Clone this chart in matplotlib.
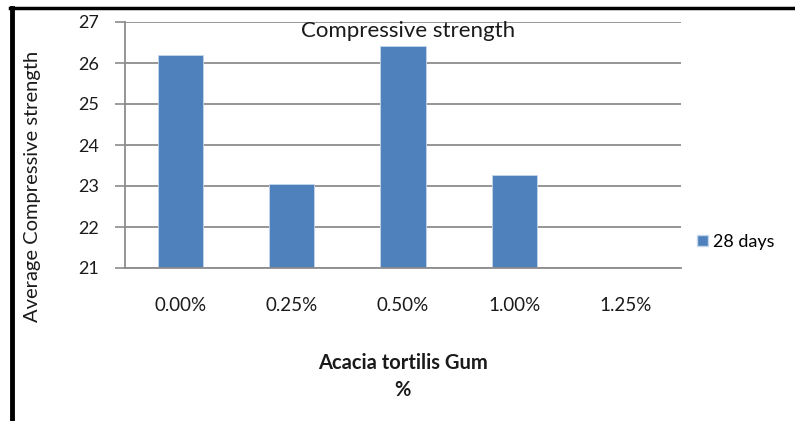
import numpy as np
import matplotlib
matplotlib.use("Agg")
import matplotlib.pyplot as plt
from matplotlib.lines import Line2D
from matplotlib.patches import Patch

categories = ["0.00%", "0.25%", "0.50%", "1.00%", "1.25%"]
strength_28d = [26.2, 23.06, 26.41, 23.27, np.nan]
y_ticks = [21, 22, 23, 24, 25, 26, 27]

plt.rcParams["font.family"] = ["Lato", "DejaVu Sans"]

W, H = 795, 421
fig = plt.figure(figsize=(W / 100, H / 100), dpi=100)
ax = fig.add_axes([125 / W, 1 - 268 / H, (681 - 125) / W, (268 - 22) / H])

grid_c = "#8c8c8c"
bar_c = "#4f81bd"
txt_c = "#1a1a1a"

x = np.arange(len(categories))
ax.bar(x, strength_28d, width=0.405, bottom=0, color=bar_c,
       edgecolor="#c6d6ea", linewidth=0.6, zorder=3)

ax.set_xlim(-0.5, len(categories) - 0.5)
ax.set_ylim(21, 27)
ax.set_yticks(y_ticks)
ax.set_xticks(x)
ax.set_xticklabels(categories, fontsize=13.5, color=txt_c)
ax.tick_params(axis="x", length=0, pad=21)
ax.tick_params(axis="y", length=7, width=1.2, color=grid_c, labelsize=13,
               pad=12, labelcolor=txt_c)

ax.grid(axis="y", color=grid_c, linewidth=1.3, zorder=0)
for s in ("top", "right"):
    ax.spines[s].set_visible(False)
for s in ("left", "bottom"):
    ax.spines[s].set_color(grid_c)
    ax.spines[s].set_linewidth(1.3)
ax.spines["bottom"].set_zorder(4)

fig.text(408 / W, 1 - 31 / H, "Compressive strength", fontsize=16,
         ha="center", va="center", color=txt_c)
fig.text(33 / W, 1 - 186 / H, "Average Compressive strength", fontsize=14.5,
         rotation=90, ha="center", va="center", color=txt_c)
fig.text(403 / W, 1 - 363 / H, "Acacia tortilis Gum", fontsize=14.5,
         fontweight="bold", ha="center", va="center", color=txt_c)
fig.text(402 / W, 1 - 390 / H, "%", fontsize=14.5,
         fontweight="bold", ha="center", va="center", color=txt_c)

handle = Patch(facecolor=bar_c, edgecolor="#c6d6ea")
fig.legend([handle], ["28 days"], loc="center left",
           bbox_to_anchor=(697 / W, 1 - 242 / H), frameon=False,
           borderpad=0, borderaxespad=0,
           fontsize=13, handlelength=0.6, handleheight=0.6, handletextpad=0.3)

# frame around the chart
fig.add_artist(Line2D([10 / W, 1.0], [1 - 8 / H, 1 - 8 / H], color="black",
                      linewidth=2.5, transform=fig.transFigure))
fig.add_artist(Line2D([11.5 / W, 11.5 / W], [0, 1 - 8 / H], color="black",
                      linewidth=3.5, transform=fig.transFigure))

fig.savefig("out.png", dpi=100)
